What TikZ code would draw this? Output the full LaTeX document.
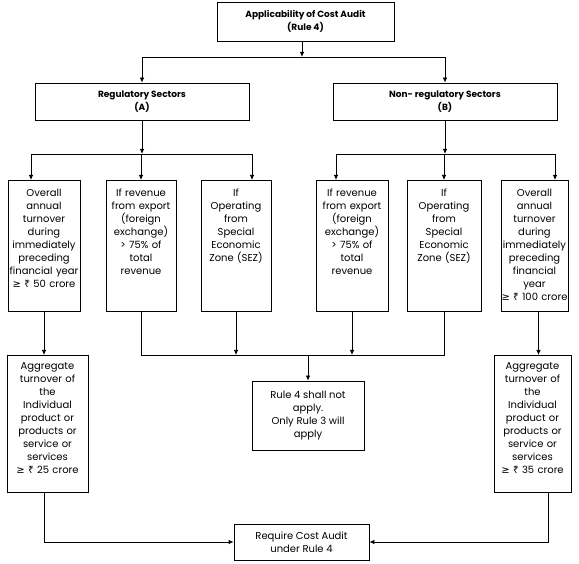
\documentclass[tikz,border=0pt]{standalone}
\usepackage{fontspec}
\setmainfont{Poppins}
\newfontfamily\symfont{Noto Sans}
\newfontfamily\relfont{DejaVu Sans}
\usetikzlibrary{arrows.meta}

\newcommand{\atleast}{{\relfont ≥}}
\newcommand{\rupee}{{\symfont ₹}}

\begin{document}
\begin{tikzpicture}[
    x=1pt, y=-1pt,
    box/.style={draw, line width=0.8pt, align=center, font=\fontsize{10}{13}\selectfont},
    headbox/.style={box, font=\fontsize{9}{13.5}\selectfont\bfseries},
    colbox/.style 2 args={box, anchor=north, inner sep=0pt, text width=#1, text height=16pt, text depth=#2},
    flow/.style={line width=0.8pt, -{Latex[length=5pt,width=4.5pt]}},
    link/.style={line width=0.8pt}
    ]
    \useasboundingbox (0,0) rectangle (579,564);

    % heads
    \node[headbox, minimum width=177pt, minimum height=39pt] (rule) at (305.5,21.5) {Applicability of Cost Audit\\(Rule 4)};
    \node[headbox, minimum width=214pt, minimum height=37pt] (reg) at (142,101.5) {Regulatory Sectors\\(A)};
    \node[headbox, minimum width=224pt, minimum height=37pt] (nonreg) at (445,101.5) {Non- regulatory Sectors\\(B)};

    % conditions
    \node[colbox={72pt}{115pt}] (overA) at (44,180) {Overall\\annual\\turnover\\during\\immediately\\preceding\\financial year\\\atleast{} \rupee{} 50 crore};
    \node[colbox={70pt}{115pt}] (exportA) at (141,180) {If revenue\\from export\\(foreign\\exchange)\\> 75\% of\\total\\revenue};
    \node[colbox={70pt}{115pt}] (sezA) at (236,180) {If\\Operating\\from\\Special\\Economic\\Zone (SEZ)};
    \node[colbox={72pt}{115pt}] (exportB) at (352,180) {If revenue\\from export\\(foreign\\exchange)\\> 75\% of\\total\\revenue};
    \node[colbox={74pt}{115pt}] (sezB) at (444,180) {If\\Operating\\from\\Special\\Economic\\Zone (SEZ)};
    \node[colbox={67pt}{115pt}] (overB) at (534.5,180) {Overall\\annual\\turnover\\during\\immediately\\preceding\\financial\\year\\\atleast{} \rupee{} 100 crore};

    % results
    \node[colbox={81pt}{122.5pt}, text height=14.5pt] (aggA) at (47.5,355) {Aggregate\\turnover of\\the\\Individual\\product or\\products or\\service or\\services\\\atleast{} \rupee{} 25 crore};
    \node[colbox={77pt}{122.5pt}, text height=14.5pt] (aggB) at (532.5,355) {Aggregate\\turnover of\\the\\Individual\\product or\\products or\\service or\\services\\\atleast{} \rupee{} 35 crore};
    \node[box, minimum width=112pt, minimum height=69pt] (nolimit) at (308,415.5) {Rule 4 shall not\\apply.\\Only Rule 3 will\\apply};
    \node[box, minimum width=135pt, minimum height=36pt] (audit) at (301.5,542) {Require Cost Audit\\under Rule 4};

    \coordinate (sec split) at (302,57);
    \coordinate (A bar west) at (31,154);
    \coordinate (A bar east) at (252,154);
    \coordinate (B bar west) at (336,154);
    \coordinate (B bar east) at (555,154);
    \coordinate (mid bar) at (0,355);

    % top split
    \draw[flow] (sec split |- rule.south) -- (sec split);
    \draw[link] (reg.north |- sec split) -- (nonreg.north |- sec split);
    \draw[flow] (reg.north |- sec split) -- (reg.north);
    \draw[flow] (nonreg.north |- sec split) -- (nonreg.north);

    % regulatory
    \draw[flow] (reg.south) -- (reg.south |- A bar west);
    \draw[link] (A bar west) -- (A bar east);
    \draw[flow] (A bar west) -- (A bar west |- overA.north);
    \draw[flow] (exportA.north |- A bar west) -- (exportA.north);
    \draw[flow] (A bar east) -- (A bar east |- sezA.north);

    % non-regulatory
    \draw[flow] (nonreg.south) -- (nonreg.south |- B bar west);
    \draw[link] (B bar west) -- (B bar east);
    \draw[flow] (B bar west) -- (B bar west |- exportB.north);
    \draw[flow] (sezB.north |- B bar west) -- (sezB.north);
    \draw[flow] (B bar east) -- (B bar east |- overB.north);

    % export / SEZ
    \draw[link] (exportA.south) -- (exportA.south |- mid bar) -- (sezB.south |- mid bar) -- (sezB.south);
    \draw[flow] (sezA.south) -- (sezA.south |- mid bar);
    \draw[flow] (exportB.south) -- (exportB.south |- mid bar);
    \draw[flow] (nolimit.north |- mid bar) -- (nolimit.north);

    % turnover
    \draw[flow] (overA.south) -- (overA.south |- aggA.north);
    \draw[flow] ([xshift=4pt]overB.south) -- ([xshift=4pt]overB.south |- aggB.north);
    \draw[flow] (overA.south |- aggA.south) |- (audit.west);
    \draw[flow] ([xshift=16pt]aggB.south) |- (audit.east);
\end{tikzpicture}
\end{document}
